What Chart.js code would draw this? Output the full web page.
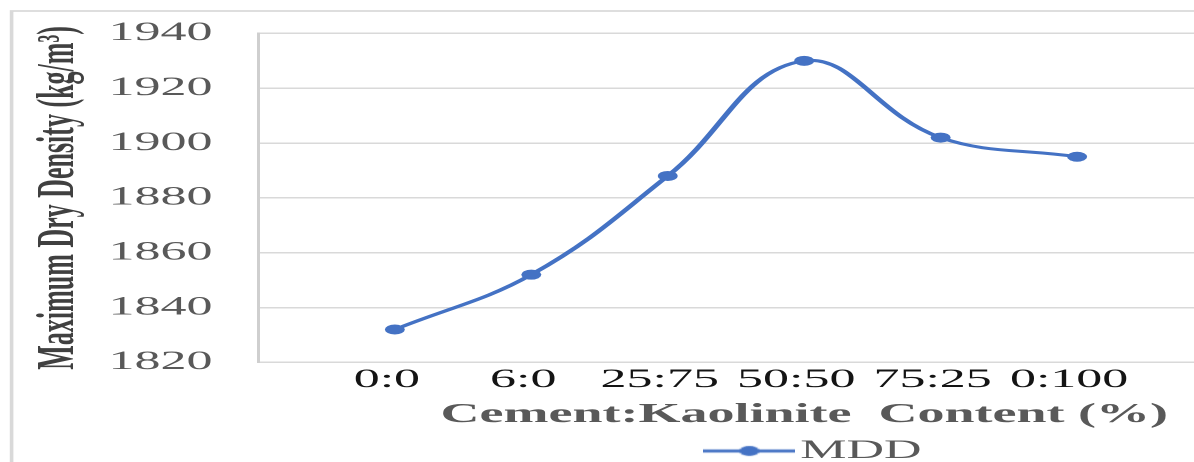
<!DOCTYPE html>
<html>
<head>
<meta charset="utf-8">
<script src="https://cdn.jsdelivr.net/npm/chart.js@4"></script>
<style>
  html, body { margin: 0; padding: 0; background: #fff; overflow: hidden; }
  #frame { position: relative; width: 1194px; height: 462px; overflow: hidden; background: #fff; }
  /* the chart is laid out at half width and widened 2x horizontally */
  #c { position: absolute; left: 0; top: 0; transform: scaleX(2); transform-origin: 0 0; }
</style>
</head>
<body>
<div id="frame"><canvas id="c" width="809" height="462" style="width:809px;height:462px"></canvas></div>
<script>
const categories = ['0:0', '6:0', '25:75', '50:50', '75:25', '0:100'];
const mddValues = [1832, 1852, 1888, 1930, 1902, 1895];
const yTicks = [1820, 1840, 1860, 1880, 1900, 1920, 1940];
const seriesName = 'MDD';
const xTitle = 'Cement:Kaolinite  Content (%)';
const yTitle = 'Maximum Dry Density (kg/m\u00B3)';

const BLUE = '#4472C4';
const GRID = '#d9d9d9';
const SERIF = '"Liberation Serif", "Times New Roman", serif';

// one empty slot before the first mix and two after the last
const labels = ['', ...categories, '', ''];
const values = [null, ...mddValues, null, null];

// legend swatch: short line with a dot in the middle
const swatch = document.createElement('canvas');
swatch.width = 46; swatch.height = 12;
(function () {
  const g = swatch.getContext('2d');
  g.strokeStyle = BLUE; g.lineWidth = 3;
  g.beginPath(); g.moveTo(0, 6); g.lineTo(46, 6); g.stroke();
  g.fillStyle = BLUE;
  g.beginPath(); g.arc(23, 6, 5, 0, Math.PI * 2); g.fill();
})();

// light frame around the whole chart
const framePlugin = {
  id: 'outerFrame',
  beforeDraw(chart) {
    const ctx = chart.ctx;
    ctx.save();
    ctx.strokeStyle = GRID;
    ctx.lineWidth = 1.8;
    ctx.beginPath();
    ctx.moveTo(5.8, chart.height + 5);
    ctx.lineTo(5.8, 11);
    ctx.lineTo(chart.width + 5, 11);
    ctx.stroke();
    ctx.restore();
  }
};

new Chart(document.getElementById('c'), {
  type: 'line',
  data: {
    labels: labels,
    datasets: [{
      label: seriesName,
      data: values,
      yAxisID: 'y',
      borderColor: BLUE,
      backgroundColor: BLUE,
      borderWidth: 3,
      pointRadius: 5,
      pointHoverRadius: 5,
      pointBorderWidth: 0,
      tension: 0.4
    }]
  },
  options: {
    responsive: false,
    devicePixelRatio: 2,
    animation: false,
    layout: { padding: { left: 14, right: 0, top: 7, bottom: -12 } },
    plugins: {
      tooltip: { enabled: false },
      legend: {
        position: 'bottom',
        labels: {
          usePointStyle: true,
          pointStyle: swatch,
          pointStyleWidth: 25,
          padding: 0,
          color: '#595959',
          font: { family: SERIF, size: 26 }
        }
      }
    },
    scales: {
      x: {
        offset: false,
        grid: { display: false, drawTicks: false },
        border: { display: true, color: GRID, width: 1.5 },
        ticks: {
          autoSkip: false, maxRotation: 0, padding: 2, labelOffset: -4,
          color: '#141414',
          font: { family: SERIF, size: 26 }
        },
        title: {
          display: true, text: xTitle, color: '#595959',
          padding: { top: 1, bottom: 7 },
          font: { family: SERIF, size: 27, weight: 'bold' }
        }
      },
      y: {
        position: 'left',
        min: 1820, max: 1940,
        afterBuildTicks: s => { s.ticks = yTicks.map(v => ({ value: v })); },
        grid: { color: GRID, lineWidth: 1.5, drawTicks: false },
        border: { display: true, color: '#cfcfcf', width: 1.5 },
        ticks: {
          padding: 23, color: '#595959',
          callback: v => String(v),
          font: { family: SERIF, size: 26, lineHeight: 0.8 }
        },
        title: {
          display: true, text: yTitle, color: '#404040',
          padding: { top: 0, bottom: -14 },
          font: { family: SERIF, size: 26, weight: 'bold' }
        }
      },
      // empty margin on the right of the plot, beyond the last slot
      margin: {
        position: 'right',
        display: true,
        grid: { display: false },
        border: { display: false },
        ticks: { display: false },
        afterFit: s => { s.width = 134; }
      }
    }
  },
  plugins: [framePlugin]
});
</script>
</body>
</html>
